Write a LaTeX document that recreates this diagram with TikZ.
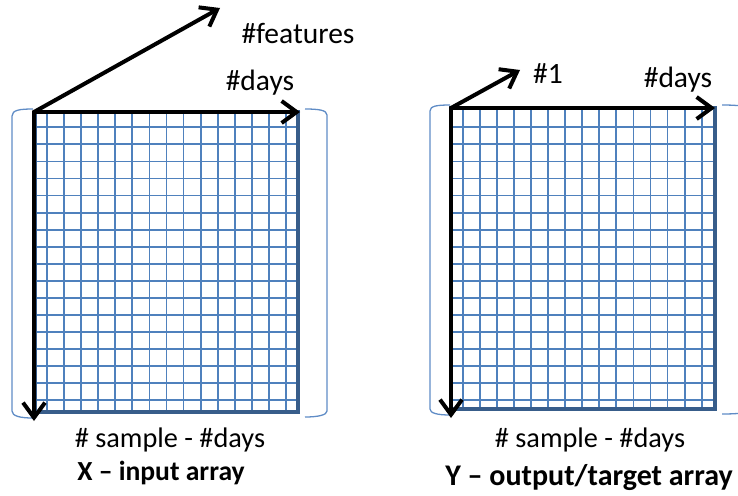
\documentclass[tikz,border=0pt]{standalone}
\usepackage{fontspec}
\setmainfont{Carlito}
\usetikzlibrary{arrows.meta}
\definecolor{gridblue}{RGB}{79,129,189}
\definecolor{edgeblue}{RGB}{56,93,138}
\definecolor{brblue}{RGB}{95,140,198}
\begin{document}
\begin{tikzpicture}[x=1pt,y=-1pt,
  gridline/.style={gridblue, line width=1.8pt},
  frame/.style={edgeblue, line width=4pt},
  axis/.style={black, line width=4pt, line cap=round, -{Straight Barb[length=15pt,width=22pt]}},
  bracket/.style={brblue, line width=1.3pt},
  toplbl/.style={font=\fontsize{29.5}{31}\selectfont, inner sep=0pt, anchor=base},
  lbl/.style={font=\fontsize{28.3}{30}\selectfont, inner sep=0pt, anchor=base},
  ttl/.style={font=\fontsize{27.6}{30}\selectfont\bfseries, inner sep=0pt, anchor=base}]
\useasboundingbox (0,0) rectangle (738,495);
\clip (0,0) rectangle (738,495);

% ---------- left grid (X) ----------
\foreach \i in {0,...,14} \draw[gridline] ({47+17.07*\i},112) -- ({47+17.07*\i},412);
\foreach \j in {0,...,16} \draw[gridline] (35,{127.3+17.06*\j}) -- (298,{127.3+17.06*\j});
\draw[frame] (35,112) rectangle (298,412);

% brackets
\draw[bracket] (33,109) .. controls (20,109) and (12,110) .. (12,116) -- (12,411) .. controls (12,416) and (20,418) .. (33,418);
\draw[bracket] (305,109) .. controls (318,109) and (327,110) .. (327,115) -- (327,411) .. controls (327,415) and (318,417) .. (305,417);

% axes
\coordinate (oL) at (34,112);
\coordinate (dL) at (34,421);
\coordinate (rL) at (300,112);
\coordinate (fL) at (220,8);
\draw[axis] (oL) -- (dL);
\draw[axis] (oL) -- (rL);
\draw[axis] (oL) -- (fL);

\node[toplbl] (featL) at (298,44) {\#features};
\node[toplbl] (daysL) at (260,90) {\#days};
\node[lbl] (sampL) at (170,447) {\# sample - \#days};
\node[ttl] (titL) at (161,480) {X – input array};

% ---------- right grid (Y) ----------
\foreach \i in {0,...,14} \draw[gridline] ({462.7+17.07*\i},108) -- ({462.7+17.07*\i},409);
\foreach \j in {0,...,16} \draw[gridline] (451,{127.3+17.06*\j}) -- (715,{127.3+17.06*\j});
\draw[frame] (451,108) rectangle (715,409);

\draw[bracket] (450,105) .. controls (437,105) and (430,106) .. (430,111) -- (430,409) .. controls (430,413) and (437,415) .. (450,415);
\draw[bracket] (722,105) .. controls (738,105) and (750,106) .. (750,111) -- (750,409) .. controls (750,413) and (738,414) .. (722,414);

\coordinate (oR) at (451,108);
\coordinate (dR) at (451,418);
\coordinate (rR) at (715,108);
\coordinate (fR) at (520,70);
\draw[axis] (oR) -- (dR);
\draw[axis] (oR) -- (rR);
\draw[axis] (oR) -- (fR);

\node[toplbl] (oneR) at (548,83) {\#1};
\node[toplbl] (daysR) at (678,87) {\#days};
\node[lbl] (sampR) at (590,447) {\# sample - \#days};
\node[ttl, font=\fontsize{30}{32}\selectfont\bfseries] (titR) at (589,485) {Y – output/target array};
\end{tikzpicture}
\end{document}
